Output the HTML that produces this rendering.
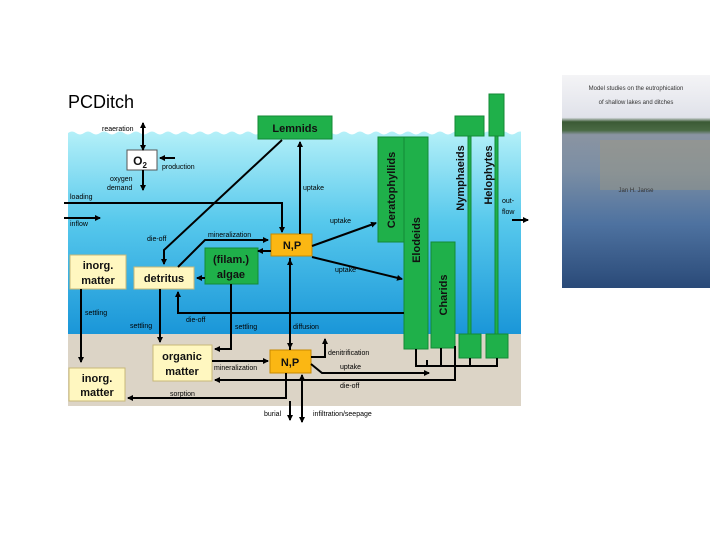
<!DOCTYPE html><html><head><style>body{margin:0;background:#fff;width:720px;height:540px;overflow:hidden}text{font-family:"Liberation Sans",sans-serif}</style></head><body>
<svg width="720" height="540" viewBox="0 0 720 540" xmlns="http://www.w3.org/2000/svg">
<defs>
<linearGradient id="w" x1="0" y1="0" x2="0" y2="1"><stop offset="0" stop-color="#b4f0f8"/><stop offset="0.45" stop-color="#56c8ec"/><stop offset="1" stop-color="#1a96d8"/></linearGradient>
<linearGradient id="ph" x1="0" y1="0" x2="0" y2="1"><stop offset="0" stop-color="#f4f4f6"/><stop offset="0.2" stop-color="#e0e2ea"/><stop offset="0.22" stop-color="#3b5a35"/><stop offset="0.26" stop-color="#4a6a44"/><stop offset="0.28" stop-color="#8a94a2"/><stop offset="0.45" stop-color="#7b8ea4"/><stop offset="0.7" stop-color="#4e72a0"/><stop offset="1" stop-color="#2a4a78"/></linearGradient>
<clipPath id="c"><rect x="68" y="100" width="453" height="240"/></clipPath>
<marker id="a" markerWidth="6" markerHeight="6" refX="5" refY="3" orient="auto" markerUnits="userSpaceOnUse"><path d="M0,0L6,3L0,6z" fill="#000"/></marker>
</defs>
<text x="68" y="108" font-size="18" fill="#000">PCDitch</text>
<g clip-path="url(#c)">
<path d="M68,133 q4,-3 8,0 t8,0 t8,0 t8,0 t8,0 t8,0 t8,0 t8,0 t8,0 t8,0 t8,0 t8,0 t8,0 t8,0 t8,0 t8,0 t8,0 t8,0 t8,0 t8,0 t8,0 t8,0 t8,0 t8,0 t8,0 t8,0 t8,0 t8,0 t8,0 t8,0 t8,0 t8,0 t8,0 t8,0 t8,0 t8,0 t8,0 t8,0 t8,0 t8,0 t8,0 t8,0 t8,0 t8,0 t8,0 t8,0 t8,0 t8,0 t8,0 t8,0 t8,0 t8,0 t8,0 t8,0 t8,0 t8,0 t8,0 t8,0 t8,0 t8,0 V334 H68z" fill="url(#w)"/>
</g>
<rect x="68" y="334" width="453" height="72" fill="#dcd4c6"/>
<g fill="#1fb04a" stroke="#138a36" stroke-width="1">
<rect x="258" y="116" width="74" height="23"/>
<rect x="378" y="137" width="26" height="105"/>
<rect x="404" y="137" width="24" height="212"/>
<rect x="431" y="242" width="24" height="106"/>
<rect x="455" y="116" width="29" height="20"/>
<rect x="489" y="94" width="15" height="42"/>
<rect x="468" y="136" width="3" height="198"/>
<rect x="495" y="136" width="3" height="198"/>
<rect x="459" y="334" width="22" height="24"/>
<rect x="486" y="334" width="22" height="24"/>
<rect x="205" y="248" width="53" height="36"/>
</g>
<g fill="#fff7c0" stroke="#c8b878"><rect x="70" y="255" width="56" height="34"/><rect x="134" y="267" width="60" height="22"/><rect x="153" y="345" width="59" height="36"/><rect x="69" y="368" width="56" height="33"/></g>
<rect x="127" y="150" width="30" height="20" fill="#fff" stroke="#555"/>
<g fill="#fbb713" stroke="#c88a00"><rect x="271" y="234" width="41" height="22"/><rect x="270" y="350" width="41" height="23"/></g>
<g stroke="#000" stroke-width="2" fill="none">
<path d="M143,150V123" marker-end="url(#a)"/><path d="M143,136V150" marker-end="url(#a)"/>
<path d="M143,170V190" marker-end="url(#a)"/><path d="M175,158H160" marker-end="url(#a)"/>
<path d="M64,203H282V232" marker-end="url(#a)"/><path d="M64,218H100" marker-end="url(#a)"/>
<path d="M282,140L164,250V264" marker-end="url(#a)"/>
<path d="M178,267L205,240H268" marker-end="url(#a)"/>
<path d="M300,234V142" marker-end="url(#a)"/>
<path d="M312,246L376,223" marker-end="url(#a)"/>
<path d="M312,257L402,279" marker-end="url(#a)"/>
<path d="M271,251H258" marker-end="url(#a)"/><path d="M205,278H197" marker-end="url(#a)"/>
<path d="M404,313H178V292" marker-end="url(#a)"/>
<path d="M81,289V362" marker-end="url(#a)"/><path d="M160,289V342" marker-end="url(#a)"/>
<path d="M231,284V349H215" marker-end="url(#a)"/>
<path d="M290,258V348" marker-end="url(#a)"/><path d="M290,350V260" marker-end="url(#a)"/>
<path d="M212,361H268" marker-end="url(#a)"/>
<path d="M311,357H325V339" marker-end="url(#a)"/>
<path d="M311,364L322,373H429" marker-end="url(#a)"/><path d="M416,349V366H497V358M441,348V366M470,358V366M427,366V360"/>
<path d="M455,346V380H215" marker-end="url(#a)"/>
<path d="M286,373V398H128" marker-end="url(#a)"/>
<path d="M290,401V420" marker-end="url(#a)"/><path d="M302,422V375" marker-end="url(#a)"/><path d="M302,375V422" marker-end="url(#a)"/>
<path d="M512,220H528" marker-end="url(#a)"/>
</g>
<g font-size="7" fill="#000">
<text x="102" y="131">reaeration</text><text x="162" y="169">production</text><text x="110" y="181">oxygen</text><text x="107" y="190">demand</text>
<text x="70" y="199">loading</text><text x="70" y="226">inflow</text><text x="147" y="241">die-off</text><text x="208" y="237">mineralization</text>
<text x="303" y="190">uptake</text><text x="330" y="223">uptake</text><text x="335" y="272">uptake</text>
<text x="85" y="315">settling</text><text x="130" y="328">settling</text><text x="186" y="322">die-off</text><text x="235" y="329">settling</text><text x="293" y="329">diffusion</text>
<text x="328" y="355">denitrification</text><text x="214" y="370">mineralization</text><text x="340" y="369">uptake</text><text x="340" y="388">die-off</text><text x="170" y="396">sorption</text>
<text x="264" y="416">burial</text><text x="313" y="416">infiltration/seepage</text><text x="502" y="203">out-</text><text x="502" y="214">flow</text>
</g>
<g font-size="11" font-weight="bold" fill="#111" text-anchor="middle">
<text x="295" y="132">Lemnids</text><text x="98" y="269">inorg.</text><text x="98" y="284">matter</text><text x="164" y="282">detritus</text>
<text x="231" y="263">(filam.)</text><text x="231" y="278">algae</text><text x="292" y="249">N,P</text><text x="290" y="366">N,P</text>
<text x="182" y="360">organic</text><text x="182" y="375">matter</text><text x="97" y="382">inorg.</text><text x="97" y="396">matter</text>
<text x="140" y="165" font-size="12">O<tspan font-size="8" dy="3">2</tspan></text>
<text transform="translate(395,190) rotate(-90)">Ceratophyllids</text>
<text transform="translate(420,240) rotate(-90)">Elodeids</text>
<text transform="translate(447,295) rotate(-90)">Charids</text>
<text transform="translate(464,178) rotate(-90)">Nymphaeids</text>
<text transform="translate(492,175) rotate(-90)">Helophytes</text>
</g>
<rect x="562" y="75" width="148" height="213" fill="url(#ph)"/>
<rect x="600" y="140" width="110" height="50" fill="#a09a80" opacity="0.45"/>
<g font-family="Liberation Serif" font-size="6" fill="#333" text-anchor="middle"><text x="636" y="90">Model studies on the eutrophication</text><text x="636" y="104">of shallow lakes and ditches</text><text x="636" y="192">Jan H. Janse</text></g>
</svg></body></html>
